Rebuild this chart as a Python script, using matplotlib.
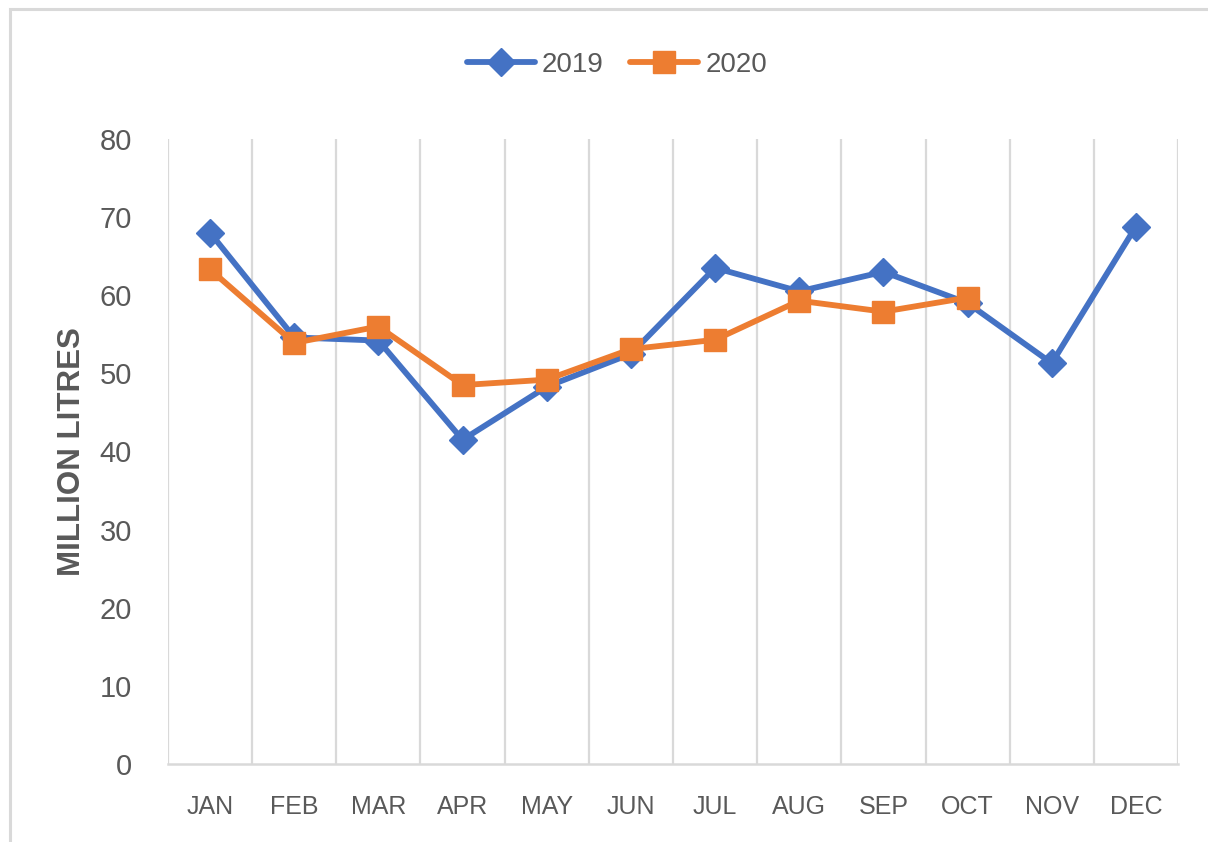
import matplotlib
matplotlib.use("Agg")
import matplotlib.pyplot as plt
from matplotlib.lines import Line2D
from matplotlib.patches import Rectangle
import numpy as np

months = ["JAN", "FEB", "MAR", "APR", "MAY", "JUN", "JUL", "AUG", "SEP", "OCT", "NOV", "DEC"]
vals_2019 = [68.0, 54.6, 54.2, 41.5, 48.3, 52.5, 63.5, 60.5, 63.0, 59.0, 51.3, 68.8]
vals_2020 = [63.3, 53.9, 56.0, 48.5, 49.2, 53.1, 54.3, 59.3, 57.9, 59.7]
yticks = [0, 10, 20, 30, 40, 50, 60, 70, 80]
series_names = ["2019", "2020"]

BLUE = "#4472C4"
ORANGE = "#ED7D31"
TXT = "#595959"
GRID = "#D9D9D9"
NARROW = ["Liberation Sans Narrow", "Liberation Sans", "DejaVu Sans"]
WIDE = ["Liberation Sans", "DejaVu Sans"]

fig = plt.figure(figsize=(12.08, 8.42), dpi=100)
fig.patch.set_facecolor("white")

# outer chart border
W, H = 1208, 842
fig.patches.append(Rectangle((9.5 / W, -0.05), 1.2, (H - 8.5) / H + 0.05,
                             transform=fig.transFigure, fill=False,
                             edgecolor=GRID, linewidth=2.2, zorder=0))

ax = fig.add_axes([168 / W, (H - 764) / H, (1178 - 168) / W, (764 - 139) / H])

LW = 4.2
DMS = 14
SMS = 15.5
x = np.arange(len(months))
ax.plot(x, vals_2019, color=BLUE, lw=LW, marker="D", markersize=DMS,
        markerfacecolor=BLUE, markeredgecolor=BLUE, solid_capstyle="round",
        solid_joinstyle="round", zorder=3, label=series_names[0])
ax.plot(x[:len(vals_2020)], vals_2020, color=ORANGE, lw=LW, marker="s",
        markersize=SMS, markerfacecolor=ORANGE, markeredgecolor=ORANGE,
        solid_capstyle="round", solid_joinstyle="round", zorder=4,
        label=series_names[1])

ax.set_xlim(-0.5, len(months) - 0.5)
ax.set_ylim(0, 80)
ax.set_yticks(yticks)
ax.set_yticklabels([str(v) for v in yticks], fontsize=21, color=TXT, family=NARROW)
ax.set_xticks(x)
ax.set_xticklabels(months, fontsize=18, color=TXT, family=WIDE)
ax.set_xticks(np.arange(-0.5, len(months)), minor=True)
ax.grid(which="minor", axis="x", color=GRID, linewidth=1.6)
ax.grid(which="major", visible=False)
ax.tick_params(axis="both", which="both", length=0)
ax.tick_params(axis="y", pad=26)
ax.tick_params(axis="x", pad=22)
for s in ["top", "right", "left"]:
    ax.spines[s].set_visible(False)
ax.spines["bottom"].set_color(GRID)
ax.spines["bottom"].set_linewidth(1.8)
ax.set_axisbelow(True)

fig.text(72 / W, (H - 452) / H, "MILLION LITRES", rotation=90, ha="center",
         va="center", fontsize=22.5, fontweight="bold", color=TXT, family=WIDE)

handles = [
    Line2D([0], [0], color=BLUE, lw=LW, marker="D", markersize=DMS,
           solid_capstyle="round"),
    Line2D([0], [0], color=ORANGE, lw=LW, marker="s", markersize=SMS,
           solid_capstyle="round"),
]
leg = fig.legend(handles, series_names, loc="center", bbox_to_anchor=(617 / W, (H - 65) / H),
                 ncol=2, frameon=False, handlelength=2.45, handletextpad=0.25,
                 columnspacing=0.95, prop={"family": NARROW, "size": 20})
for t in leg.get_texts():
    t.set_color(TXT)

fig.savefig("out.png", dpi=100, facecolor="white")
